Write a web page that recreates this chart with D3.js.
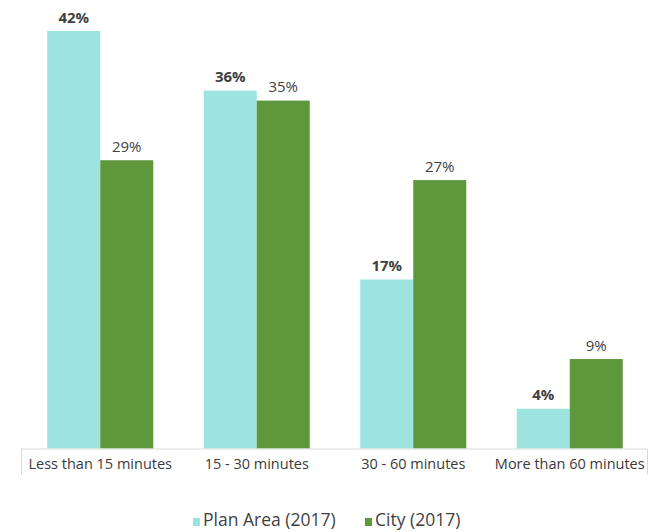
<!DOCTYPE html>
<html><head><meta charset="utf-8">
<script src="https://cdn.jsdelivr.net/npm/d3@7"></script>
<style>body{margin:0;background:#fff}svg{display:block}text{font-family:"Open Sans",sans-serif}</style>
</head><body><div id="chart"></div>
<script>
const categories = ["Less than 15 minutes","15 - 30 minutes","30 - 60 minutes","More than 60 minutes"];
const seriesNames = ["Plan Area (2017)","City (2017)"];
const planArea = [42, 36, 17, 4];
const city = [29, 35, 27, 9];
const colors = ["#9de3df", "#5f983c"];

const W = 665, H = 532;
const svg = d3.select("#chart").append("svg").attr("width", W).attr("height", H);
const values = [planArea, city];

const x0 = d3.scaleBand().domain(categories).range([22, 648]).padding(0);
const x1 = d3.scaleBand().domain(seriesNames).range([0, x0.bandwidth()]).paddingOuter(0.476).paddingInner(0);
const y = d3.scaleLinear().domain([0, 42]).range([448.5, 31]);

const g = svg.append("g");
categories.forEach((c, ci) => {
  seriesNames.forEach((s, si) => {
    const v = values[si][ci];
    g.append("rect")
      .attr("x", x0(c) + x1(s))
      .attr("y", y(v))
      .attr("width", x1.bandwidth())
      .attr("height", y(0) - y(v))
      .attr("fill", colors[si]);
    g.append("text")
      .attr("x", x0(c) + x1(s) + x1.bandwidth() / 2)
      .attr("y", y(v) - 8.5)
      .attr("text-anchor", "middle")
      .attr("font-size", 15)
      .attr("font-weight", si === 0 ? 700 : 400)
      .attr("fill", "#3f3f3f")
      .text(v + "%");
  });
});

const axis = d3.axisBottom(x0).tickSize(0).tickPadding(0);
const ax = svg.append("g").attr("transform", `translate(0,${y(0)})`).call(axis);
ax.select(".domain").attr("stroke", "#d9d9d9").attr("d", "M21.5,26V0.5H647.5V26");
ax.selectAll("text").attr("font-size", 14.5).attr("fill", "#3a3a3a").attr("font-family", "'Open Sans',sans-serif").attr("y", 20.5).attr("dy", null);

const legend = svg.append("g");
const lx = [193, 365];
seriesNames.forEach((s, i) => {
  legend.append("rect").attr("x", lx[i]).attr("y", 518).attr("width", 7).attr("height", 8).attr("fill", colors[i]);
  legend.append("text").attr("x", lx[i] + 10).attr("y", 526).attr("font-size", 17.5).attr("fill", "#3f3f3f").text(s);
});
</script></body></html>
